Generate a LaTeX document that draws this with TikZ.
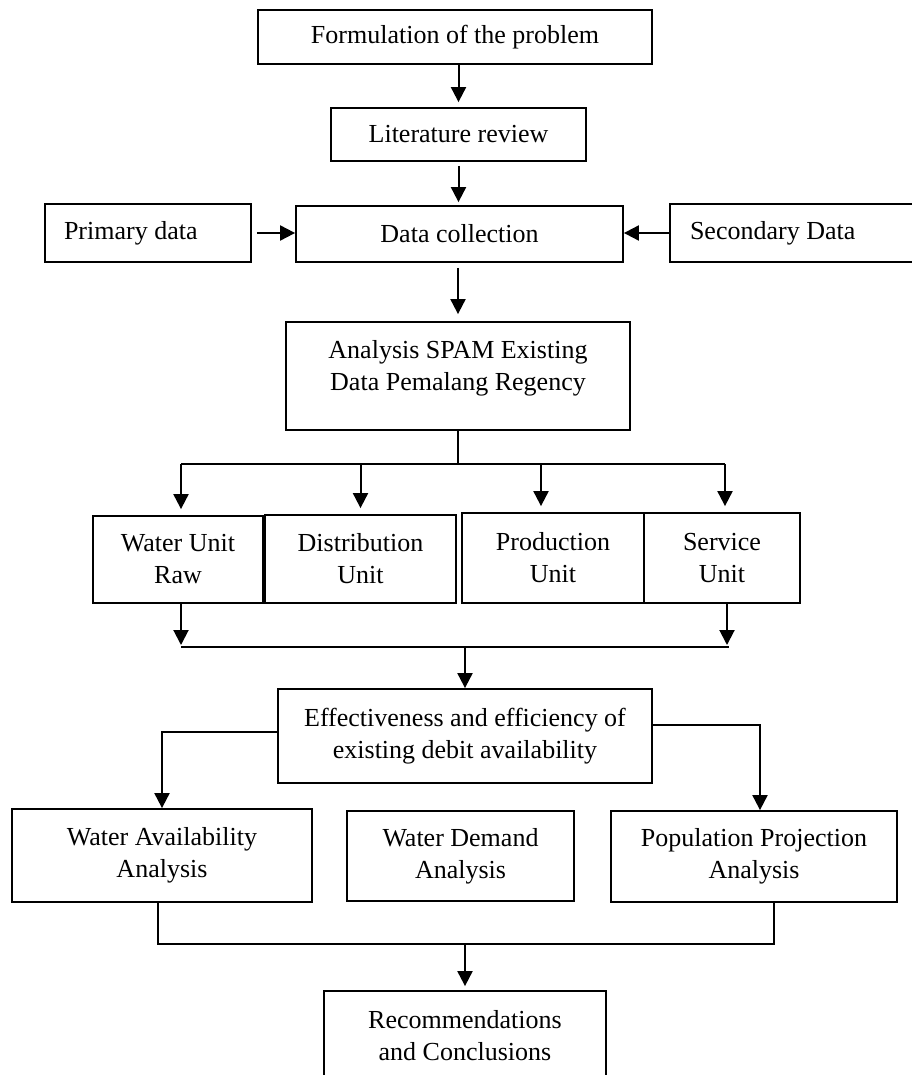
\documentclass[tikz,border=0pt]{standalone}
\usepackage{fontspec}
\setmainfont{Liberation Serif}
\usetikzlibrary{arrows.meta}

\begin{document}
\begin{tikzpicture}[x=0.5pt,y=-0.5pt,
	box/.style={draw,line width=0.9pt,align=center,inner sep=0pt,font=\fontsize{13}{16}\selectfont},
	sidebox/.style={box,align=flush left,inner xsep=10pt,minimum height=29pt},
	arr/.style={line width=1pt,-{Triangle[length=7.5pt,width=7.5pt]}},
	ln/.style={line width=1pt}]
	\useasboundingbox (0,0) rectangle (911,1075);
	% boxes
	\node[box,minimum width=197pt,minimum height=27pt] (form) at (455,37) {Formulation of the problem};
	\node[box,minimum width=127.5pt,minimum height=26.5pt] (lit) at (458.5,134.5) {Literature review};
	\node[box,minimum width=163.5pt,minimum height=28pt] (data) at (459.5,234) {Data collection};
	\node[sidebox,inner xsep=9.5pt,text width=84pt] (prim) at (148,233) {Primary data};
	\node[sidebox,text width=110pt] (sec) at (800,233) {Secondary Data};
	\node[box,minimum width=172pt,minimum height=54pt] (ana) at (458,376) {Analysis SPAM Existing\\Data Pemalang Regency\\[-5pt]\mbox{}};
	\node[box,minimum width=85pt,minimum height=43.5pt] (wur) at (178,559.5) {Water Unit\\Raw};
	\node[box,minimum width=95.5pt,minimum height=44pt] (dis) at (360.5,559) {Distribution\\Unit};
	\node[box,minimum width=91pt,minimum height=45pt] (pro) at (553,558) {Production\\Unit};
	\node[box,minimum width=78pt,minimum height=45pt] (ser) at (722,558) {Service\\Unit};
	\node[box,minimum width=187pt,minimum height=47pt] (eff) at (465,736) {Effectiveness and efficiency of\\existing debit availability};
	\node[box,minimum width=150pt,minimum height=46.5pt] (wav) at (162,855.5) {Water Availability\\Analysis};
	\node[box,minimum width=113.5pt,minimum height=45pt] (wde) at (460.5,856) {Water Demand\\Analysis};
	\node[box,minimum width=143pt,minimum height=45.5pt] (pop) at (754,856.5) {Population Projection\\Analysis};
	\node[box,minimum width=141pt,minimum height=44.5pt] (rec) at (465,1035.5) {Recommendations\\and Conclusions};
	% connectors
	\draw[arr,shorten >=2.5pt] (lit.north |- form.south) -- (lit.north);
	\draw[arr,shorten <=2pt,shorten >=1.5pt] (lit.south) -- (lit.south |- data.north);
	\draw[arr,shorten <=2.5pt] (prim.east) -- (prim.east -| data.west);
	\draw[arr] (sec.west) -- (sec.west -| data.east);
	\draw[arr,shorten <=2.5pt,shorten >=3.5pt] (ana.north |- data.south) -- (ana.north);
	\coordinate (busL) at (181,464);
	\coordinate (busR) at (725,464);
	\draw[ln] (ana.south) -- (ana.south |- busL);
	\draw[ln] (busL) -- (busR);
	\foreach \n/\dx in {wur/1.5pt,dis/0pt,pro/-6pt,ser/1.5pt}
	\draw[arr,shorten >=3pt] ([xshift=\dx]\n.north |- busL) -- ([xshift=\dx]\n.north);
	\coordinate (midL) at (181,647);
	\coordinate (midR) at (729,647);
	\draw[arr,shorten >=1pt] ([xshift=1.5pt]wur.south) -- ([xshift=1.5pt]wur.south |- midL);
	\draw[arr,shorten >=1pt] ([xshift=2.5pt]ser.south) -- ([xshift=2.5pt]ser.south |- midL);
	\draw[ln] (midL) -- (midR);
	\draw[arr] (eff.north |- midL) -- (eff.north);
	\draw[arr] ([yshift=2pt]eff.west) -| (wav.north);
	\draw[arr] ([yshift=5.5pt]eff.east) -| ([xshift=3pt]pop.north);
	\coordinate (low) at (465,944);
	\draw[ln] ([xshift=-2pt]wav.south) |- (low) -| ([xshift=10pt]pop.south);
	\draw[arr,shorten >=2pt] (low) -- (rec.north);
\end{tikzpicture}
\end{document}
